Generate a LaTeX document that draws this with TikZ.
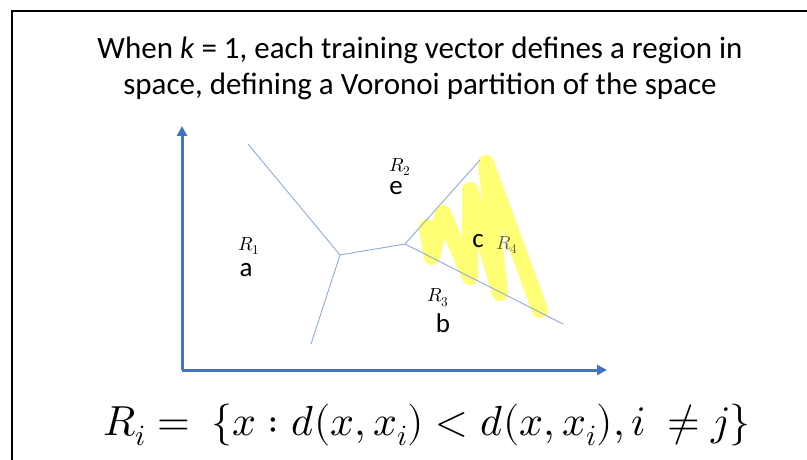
\documentclass[tikz,border=0pt]{standalone}
\usepackage{fontspec}
\usepackage{unicode-math}
\setmainfont{Carlito}
\setmathfont{Latin Modern Math}
\usetikzlibrary{arrows.meta}
\definecolor{axisblue}{HTML}{4472C4}
\definecolor{linblue}{HTML}{8FAADC}
\definecolor{hilite}{HTML}{FFFF66}
\begin{document}
\begin{tikzpicture}[x=1pt,y=-1pt,
  axis/.style={draw=axisblue,line width=3pt,-{Triangle[length=10pt,width=10pt]}},
  vor/.style={draw=linblue,line width=0.9pt},
  pt/.style={font=\fontsize{27}{29}\selectfont,inner sep=0pt},
  rlab/.style={font=\fontsize{19}{21}\selectfont,inner sep=0pt}]
\useasboundingbox (0,0) rectangle (807,460);
\fill[white] (0,0) rectangle (807,460);
\draw[line width=1.5pt] (12,460) -- (12,11) -- (807,11);
\node[align=center,font=\fontsize{31}{36}\selectfont] (title) at (420,68)
  {When \textit{k} = 1, each training vector defines a region in\\space, defining a Voronoi partition of the space};
% yellow scribble
\draw[hilite,line width=16pt,line join=round,line cap=round,opacity=0.9]
  (427,227) -- (432,257) -- (443,213) -- (470,277) -- (470,190) -- (500,293) -- (486,163) -- (540,310);
% axes
\coordinate (o) at (182,370);
\coordinate (ytip) at (182,126);
\coordinate (xtip) at (607,370);
\draw[axis] (o) -- (ytip);
\draw[axis] (o) -- (xtip);
% voronoi
\coordinate (A) at (340,255);
\coordinate (B) at (405,244);
\coordinate (ul) at (248,144);
\coordinate (lo) at (311,344);
\coordinate (ur) at (480,160);
\coordinate (lr) at (563,324);
\draw[vor] (ul) -- (A) -- (lo);
\draw[vor] (A) -- (B) -- (ur);
\draw[vor] (B) -- (lr);
% labels
\node[rlab] (r1) at (249,246) {$R_1$};
\node[pt] (a) at (246,270) {a};
\node[rlab] (r2) at (400,167) {$R_2$};
\node[pt] (e) at (396,188) {e};
\node[rlab] (r3) at (438,298) {$R_3$};
\node[pt] (b) at (443,323) {b};
\node[pt] (c) at (478,241) {c};
\node[rlab,text=black!70!yellow] (r4) at (507,245) {$R_4$};
% equation
\node[font=\fontsize{42}{46}\selectfont] (eq) at (427,425)
  {$R_i =\ \{x : d(x,x_i) < d(x,x_i), i\ \neq j\}$};
\end{tikzpicture}
\end{document}
